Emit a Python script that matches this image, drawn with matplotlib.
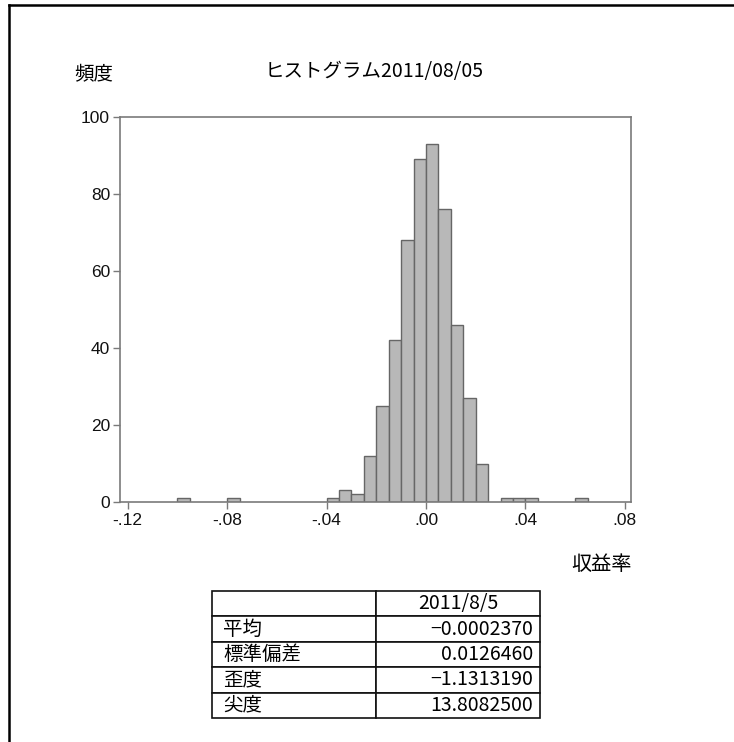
import numpy as np
import matplotlib
matplotlib.use("Agg")
import matplotlib.pyplot as plt
from matplotlib.lines import Line2D

plt.rcParams["font.family"] = ["Liberation Sans", "Noto Sans CJK JP", "DejaVu Sans"]
jp = ["Noto Sans CJK JP", "DejaVu Sans"]

## DATA
bin_width = 0.005
first_bin = -0.100
counts = [1, 0, 0, 0, 1, 0, 0, 0, 0, 0, 0, 0,
          1, 3, 2, 12, 25, 42, 68, 89, 93, 76, 46, 27, 10,
          0, 1, 1, 1, 0, 0, 0, 1]

x_ticks = [-0.12, -0.08, -0.04, 0.00, 0.04, 0.08]
x_ticklabels = ["-.12", "-.08", "-.04", ".00", ".04", ".08"]
y_ticks = [0, 20, 40, 60, 80, 100]

title = "ヒストグラム2011/08/05"
y_label = "頻度"
x_label = "収益率"

stat_header = "2011/8/5"
stat_names = ["平均", "標準偏差", "歪度", "尖度"]
stat_values = ["\u22120.0002370", "0.0126460", "\u22121.1313190", "13.8082500"]

W, H = 734, 742
fig = plt.figure(figsize=(W / 100, H / 100), dpi=100)

def px(x, y):
    return x / W, 1 - y / H

## HISTOGRAM
ax = fig.add_axes([120 / W, 1 - 502 / H, (631 - 120) / W, (502 - 117) / H])
counts = np.array(counts)
bin_left = first_bin + bin_width * np.arange(len(counts))
keep = counts > 0
ax.bar(bin_left[keep], counts[keep], width=bin_width, align="edge",
       facecolor="#b8b8b8", edgecolor="#666666", linewidth=1.0)
ax.set_xlim(-0.1231, 0.0825)
ax.set_ylim(0, 100)
ax.set_xticks(x_ticks)
ax.set_xticklabels(x_ticklabels)
ax.set_yticks(y_ticks)
for s in ax.spines.values():
    s.set_color("#7a7a7a")
    s.set_linewidth(1.2)
ax.tick_params(direction="out", length=5.2, width=1.0, color="#7a7a7a",
               labelsize=12.5, labelcolor="#111111")
ax.tick_params(axis="x", pad=3)
ax.tick_params(axis="y", pad=2)

fig.text(*px(374, 71), title, family=jp, fontsize=14, ha="center", va="center")
fig.text(*px(94, 75), y_label, family=jp, fontsize=14, ha="center", va="center")
fig.text(*px(601, 564), x_label, family=jp, fontsize=14.5, ha="center", va="center")

## STATS TABLE
tax = fig.add_axes([212 / W, 1 - 718 / H, (540 - 212) / W, (718 - 591) / H])
tax.axis("off")
cell_text = [["", stat_header]] + [[n, v] for n, v in zip(stat_names, stat_values)]
tbl = tax.table(cellText=cell_text, bbox=[0, 0, 1, 1], edges="closed")
tbl.auto_set_font_size(False)
for (r, c), cell in tbl.get_celld().items():
    cell.set_edgecolor("#111111")
    cell.set_linewidth(1.2)
    t = cell.get_text()
    t.set_fontsize(14)
    t.set_fontfamily(jp)
    if r == 0:
        cell._loc = "center"
        t.set_ha("center")
    elif c == 0:
        cell._loc = "left"
        cell.PAD = 0.07
        t.set_ha("left")
    else:
        cell._loc = "right"
        cell.PAD = 0.04
        t.set_ha("right")

## PAGE BORDER (top and left only)
fig.add_artist(Line2D([8.5 / W, 1], [1 - 4.5 / H, 1 - 4.5 / H],
                      transform=fig.transFigure, color="black", linewidth=1.8))
fig.add_artist(Line2D([8.5 / W, 8.5 / W], [0, 1 - 4.5 / H],
                      transform=fig.transFigure, color="black", linewidth=1.8))

fig.savefig("out.png", dpi=100)
